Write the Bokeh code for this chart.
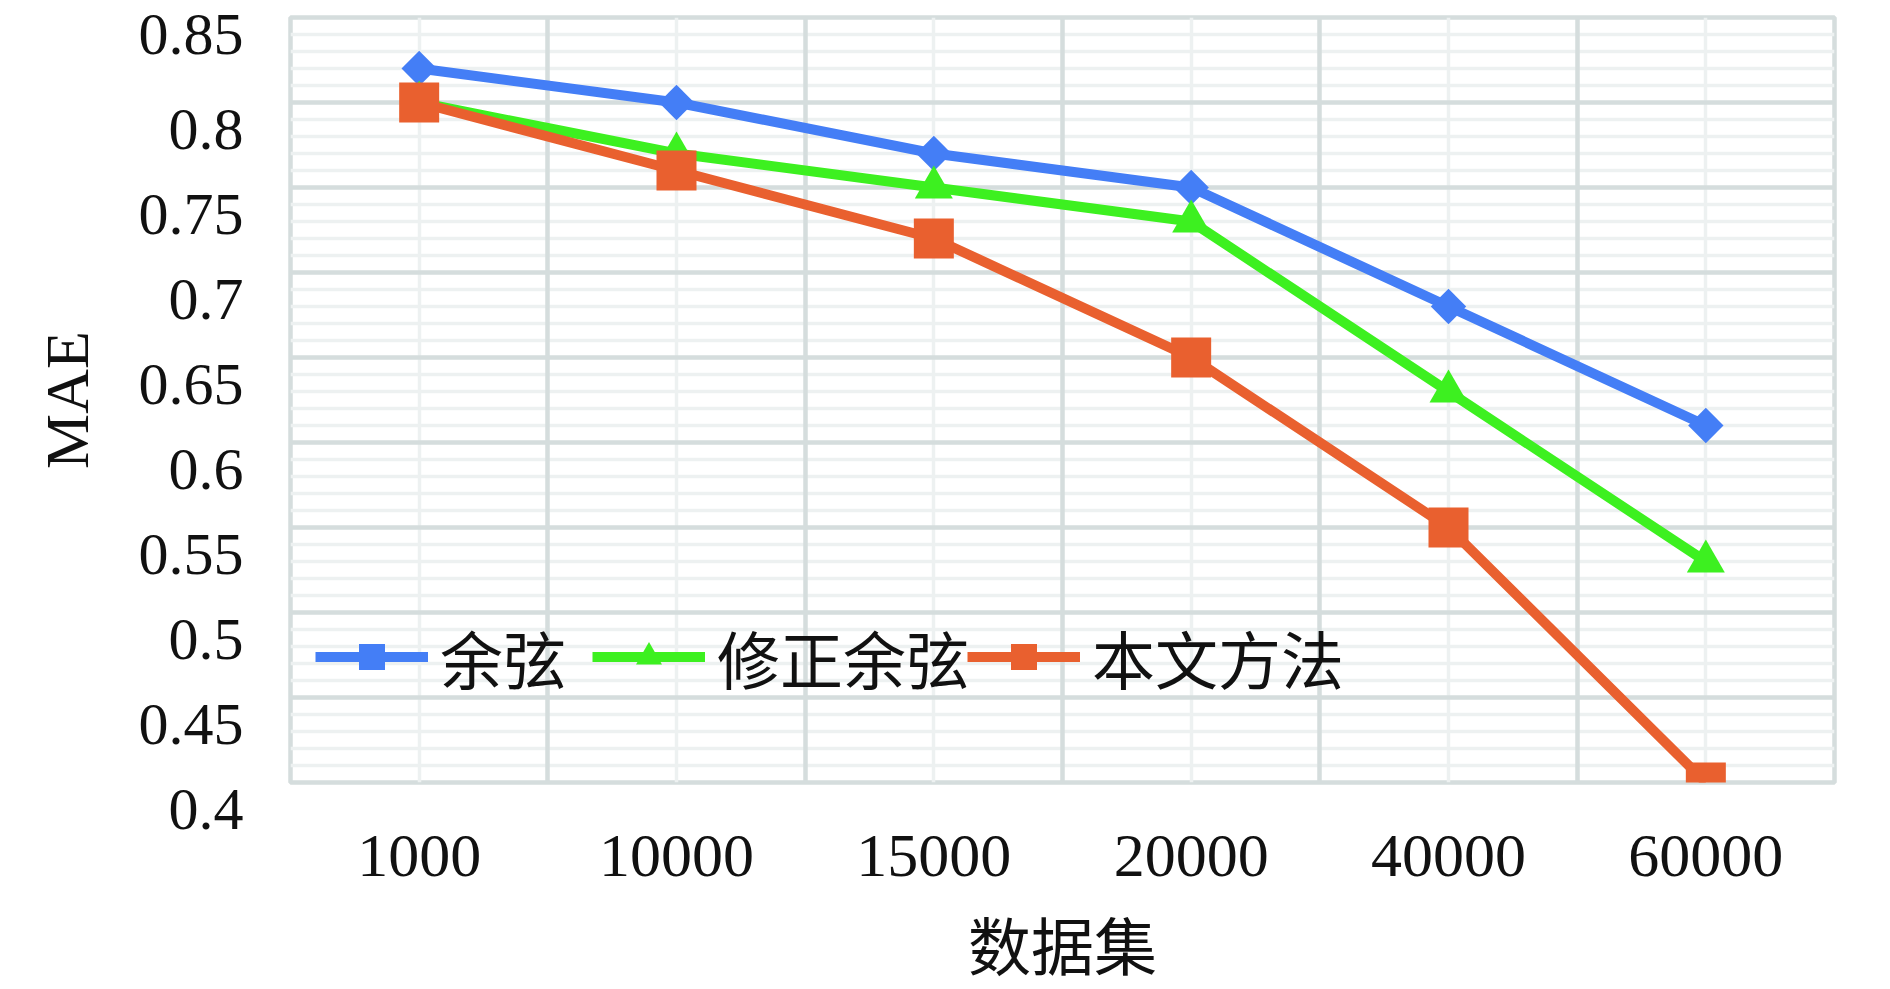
import math
import numpy as np
from bokeh.plotting import figure
from bokeh.models import FixedTicker, Grid, Legend, LegendItem, Range1d, FactorRange
from bokeh.embed import file_html
from bokeh.resources import INLINE

# ---- data ----
categories = ["1000", "10000", "15000", "20000", "40000", "60000"]
cosine = [0.82, 0.80, 0.77, 0.75, 0.68, 0.61]
adjusted_cosine = [0.80, 0.77, 0.75, 0.73, 0.63, 0.53]
our_method = [0.80, 0.76, 0.72, 0.65, 0.55, 0.40]
series_names = ["余弦", "修正余弦", "本文方法"]
y_ticks = [0.4, 0.45, 0.5, 0.55, 0.6, 0.65, 0.7, 0.75, 0.8, 0.85]
y_tick_labels = ["0.4", "0.45", "0.5", "0.55", "0.6", "0.65", "0.7", "0.75", "0.8", "0.85"]
x_title = "数据集"
y_title = "MAE"

# ---- style ----
SERIF = "Liberation Serif"
CJK = "Noto Sans CJK SC"
MAJOR_GRID = "#d5dddd"
MINOR_GRID = "#edf1f1"
colors = ["#447ef6", "#3df020", "#e9602f"]
legend_x = [25, 302, 677]   # screen offsets of the legend entries from the plot-area left edge

p = figure(
    frame_width=1544, frame_height=765,
    x_range=FactorRange(factors=categories, range_padding=0),
    y_range=Range1d(0.4, 0.85),
    output_backend="svg", toolbar_location=None,
    min_border_left=290, min_border_top=17, min_border_right=35, min_border_bottom=10,
)
p.background_fill_color = "white"
p.border_fill_color = "white"
p.outline_line_color = MAJOR_GRID
p.outline_line_width = 4.5

# y axis ticks / grid
minor = [round(v, 2) for v in np.arange(0.40, 0.8501, 0.01) if round(v * 100) % 5 != 0]
p.yaxis.ticker = FixedTicker(ticks=y_ticks, minor_ticks=minor)
# labels sit slightly below their gridlines in the original (an empty first line shifts them down)
p.yaxis.major_label_overrides = {t: (l if t == max(y_ticks) else "\n" + l)
                                 for t, l in zip(y_ticks, y_tick_labels)}
p.yaxis.major_label_text_line_height = 0.8
p.ygrid.grid_line_color = MAJOR_GRID
p.ygrid.grid_line_width = 4.5
p.ygrid.minor_grid_line_color = MINOR_GRID
p.ygrid.minor_grid_line_width = 3.5

# x grid: light lines at category centres, darker lines at category boundaries
p.xgrid.grid_line_color = MINOR_GRID
p.xgrid.grid_line_width = 3.5
bgrid = Grid(dimension=0, ticker=FixedTicker(ticks=list(range(1, len(categories)))),
             grid_line_color=MAJOR_GRID, grid_line_width=4.5)
p.add_layout(bgrid)

for ax in (p.xaxis[0], p.yaxis[0]):
    ax.axis_line_color = None
    ax.major_tick_line_color = None
    ax.minor_tick_line_color = None
    ax.major_label_text_font = SERIF
    ax.major_label_text_color = "#111111"
    ax.axis_label_text_font_style = "normal"
    ax.axis_label_text_color = "#111111"

p.yaxis.major_label_text_font_size = "60px"
p.yaxis.major_label_standoff = 41
p.yaxis.axis_label = y_title
p.yaxis.axis_label_text_font = SERIF
p.yaxis.axis_label_text_font_size = "62px"
p.yaxis.axis_label_standoff = 35

p.xaxis.major_label_text_font_size = "62px"
p.xaxis.major_label_standoff = 47
p.xaxis.axis_label = x_title
p.xaxis.axis_label_text_font = CJK
p.xaxis.axis_label_text_font_size = "63px"
p.xaxis.axis_label_standoff = 18

# series
markers = [("square", 25, math.pi / 4), ("triangle", 38, 0), ("square", 40, 0)]
for name, vals, col, (mk, sz, ang), lx in zip(series_names, [cosine, adjusted_cosine, our_method],
                                               colors, markers, legend_x):
    r1 = p.line(categories, vals, line_color=col, line_width=10)
    r2 = p.scatter(categories, vals, marker=mk, size=sz, angle=ang,
                   fill_color=col, line_color=col, line_width=0)
    legend = Legend(items=[LegendItem(label=name, renderers=[r1, r2])], location=(lx, 80),
                    label_text_font=CJK, label_text_font_size="63px", label_text_color="#111111",
                    glyph_width=113, glyph_height=65, label_standoff=12,
                    padding=0, margin=0, background_fill_alpha=0, border_line_color=None)
    p.add_layout(legend)

open("out.html", "w").write(file_html(p, INLINE))
